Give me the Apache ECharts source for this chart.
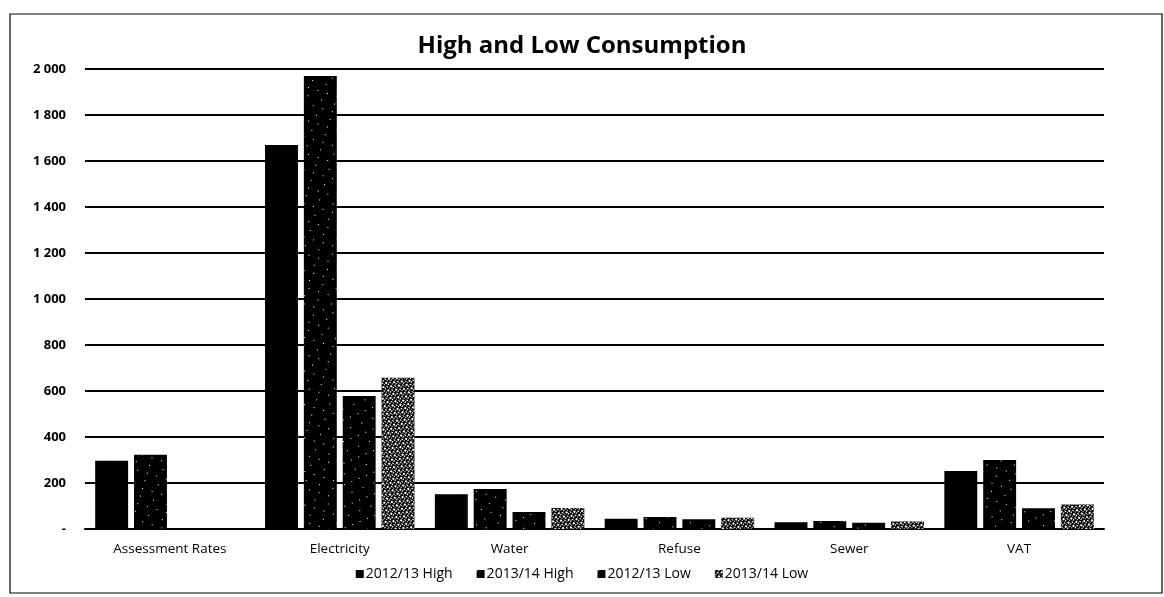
<!DOCTYPE html>
<html>
<head>
<meta charset="utf-8">
<script src="https://cdn.jsdelivr.net/npm/echarts@6/dist/echarts.min.js"></script>
<style>
  html, body { margin: 0; padding: 0; background: #fff; }
  #chart { width: 1164px; height: 597px; }
</style>
</head>
<body>
<div id="chart"></div>
<script>
// Consumption by service, high and low users, two financial years
const categories = ['Assessment Rates', 'Electricity', 'Water', 'Refuse', 'Sewer', 'VAT'];
const high1213 = [297, 1670, 151, 45, 29, 252];
const high1314 = [323, 1970, 174, 52, 35, 300];
const low1213  = [0, 578, 74, 42, 27, 90];
const low1314  = [0, 658, 91, 49, 33, 107];
const seriesNames = ['2012/13 High', '2013/14 High', '2012/13 Low', '2013/14 Low'];
const yTickValues = [0, 200, 400, 600, 800, 1000, 1200, 1400, 1600, 1800, 2000];
const yTickLabels = ['-', '200', '400', '600', '800', '1 000', '1 200', '1 400', '1 600', '1 800', '2 000'];

const font = '"Open Sans", "Liberation Sans", sans-serif';

// fill textures: plain, two sparse speckles and a dense speckle
const decals = [
  null,
  { symbol: 'rect', symbolSize: 1, color: '#ffffff', dashArrayX: [[1, 9], [1, 13]], dashArrayY: [1, 7], rotation: 0.3 },
  { symbol: 'rect', symbolSize: 1, color: '#ffffff', dashArrayX: [[1, 11], [1, 7]], dashArrayY: [1, 9], rotation: -0.4 },
  { symbol: 'rect', symbolSize: 1, color: '#ffffff', dashArrayX: [[1, 2, 2, 1], [2, 1, 1, 2]], dashArrayY: [1, 1, 2, 1], rotation: 0.6 }
];

const dataSets = [high1213, high1314, low1213, low1314];

const chart = echarts.init(document.getElementById('chart'), null, { renderer: 'canvas' });

chart.setOption({
  backgroundColor: '#ffffff',
  animation: false,
  title: {
    text: 'High and Low Consumption',
    left: 'center',
    top: 29,
    textStyle: { fontFamily: font, fontSize: 24, fontWeight: 'bold', color: '#000' }
  },
  legend: {
    data: seriesNames,
    bottom: 11,
    left: 'center',
    itemWidth: 8,
    itemHeight: 8,
    itemGap: 24,
    icon: 'rect',
    textStyle: { fontFamily: font, fontSize: 14, color: '#000', padding: [0, 0, 0, -3] }
  },
  grid: { left: 85, right: 60, top: 69, bottom: 68 },
  xAxis: {
    type: 'category',
    data: categories,
    axisLine: { lineStyle: { color: '#000', width: 2 } },
    axisTick: { show: false },
    axisLabel: { fontFamily: font, fontSize: 13.5, color: '#000', margin: 13 }
  },
  yAxis: {
    type: 'value',
    min: 0,
    max: 2000,
    interval: 200,
    axisLine: { show: false },
    axisTick: { show: false },
    splitLine: { lineStyle: { color: '#000', width: 1.8 } },
    axisLabel: {
      fontFamily: font, fontSize: 13, fontWeight: 'bold', color: '#000', margin: 19,
      formatter: function (v) {
        const i = yTickValues.indexOf(v);
        return i >= 0 ? yTickLabels[i] : '';
      }
    }
  },
  series: seriesNames.map(function (name, i) {
    return {
      name: name,
      type: 'bar',
      data: dataSets[i],
      barGap: '18%',
      barCategoryGap: '12%',
      itemStyle: { color: '#000', decal: decals[i] || undefined }
    };
  }),
  aria: { enabled: true, decal: { show: true } },
  graphic: [{
    type: 'rect',
    shape: { x: 10, y: 14, width: 1152, height: 579 },
    style: { fill: 'none', stroke: '#000', lineWidth: 1.2 },
    silent: true
  }]
});
</script>
</body>
</html>
